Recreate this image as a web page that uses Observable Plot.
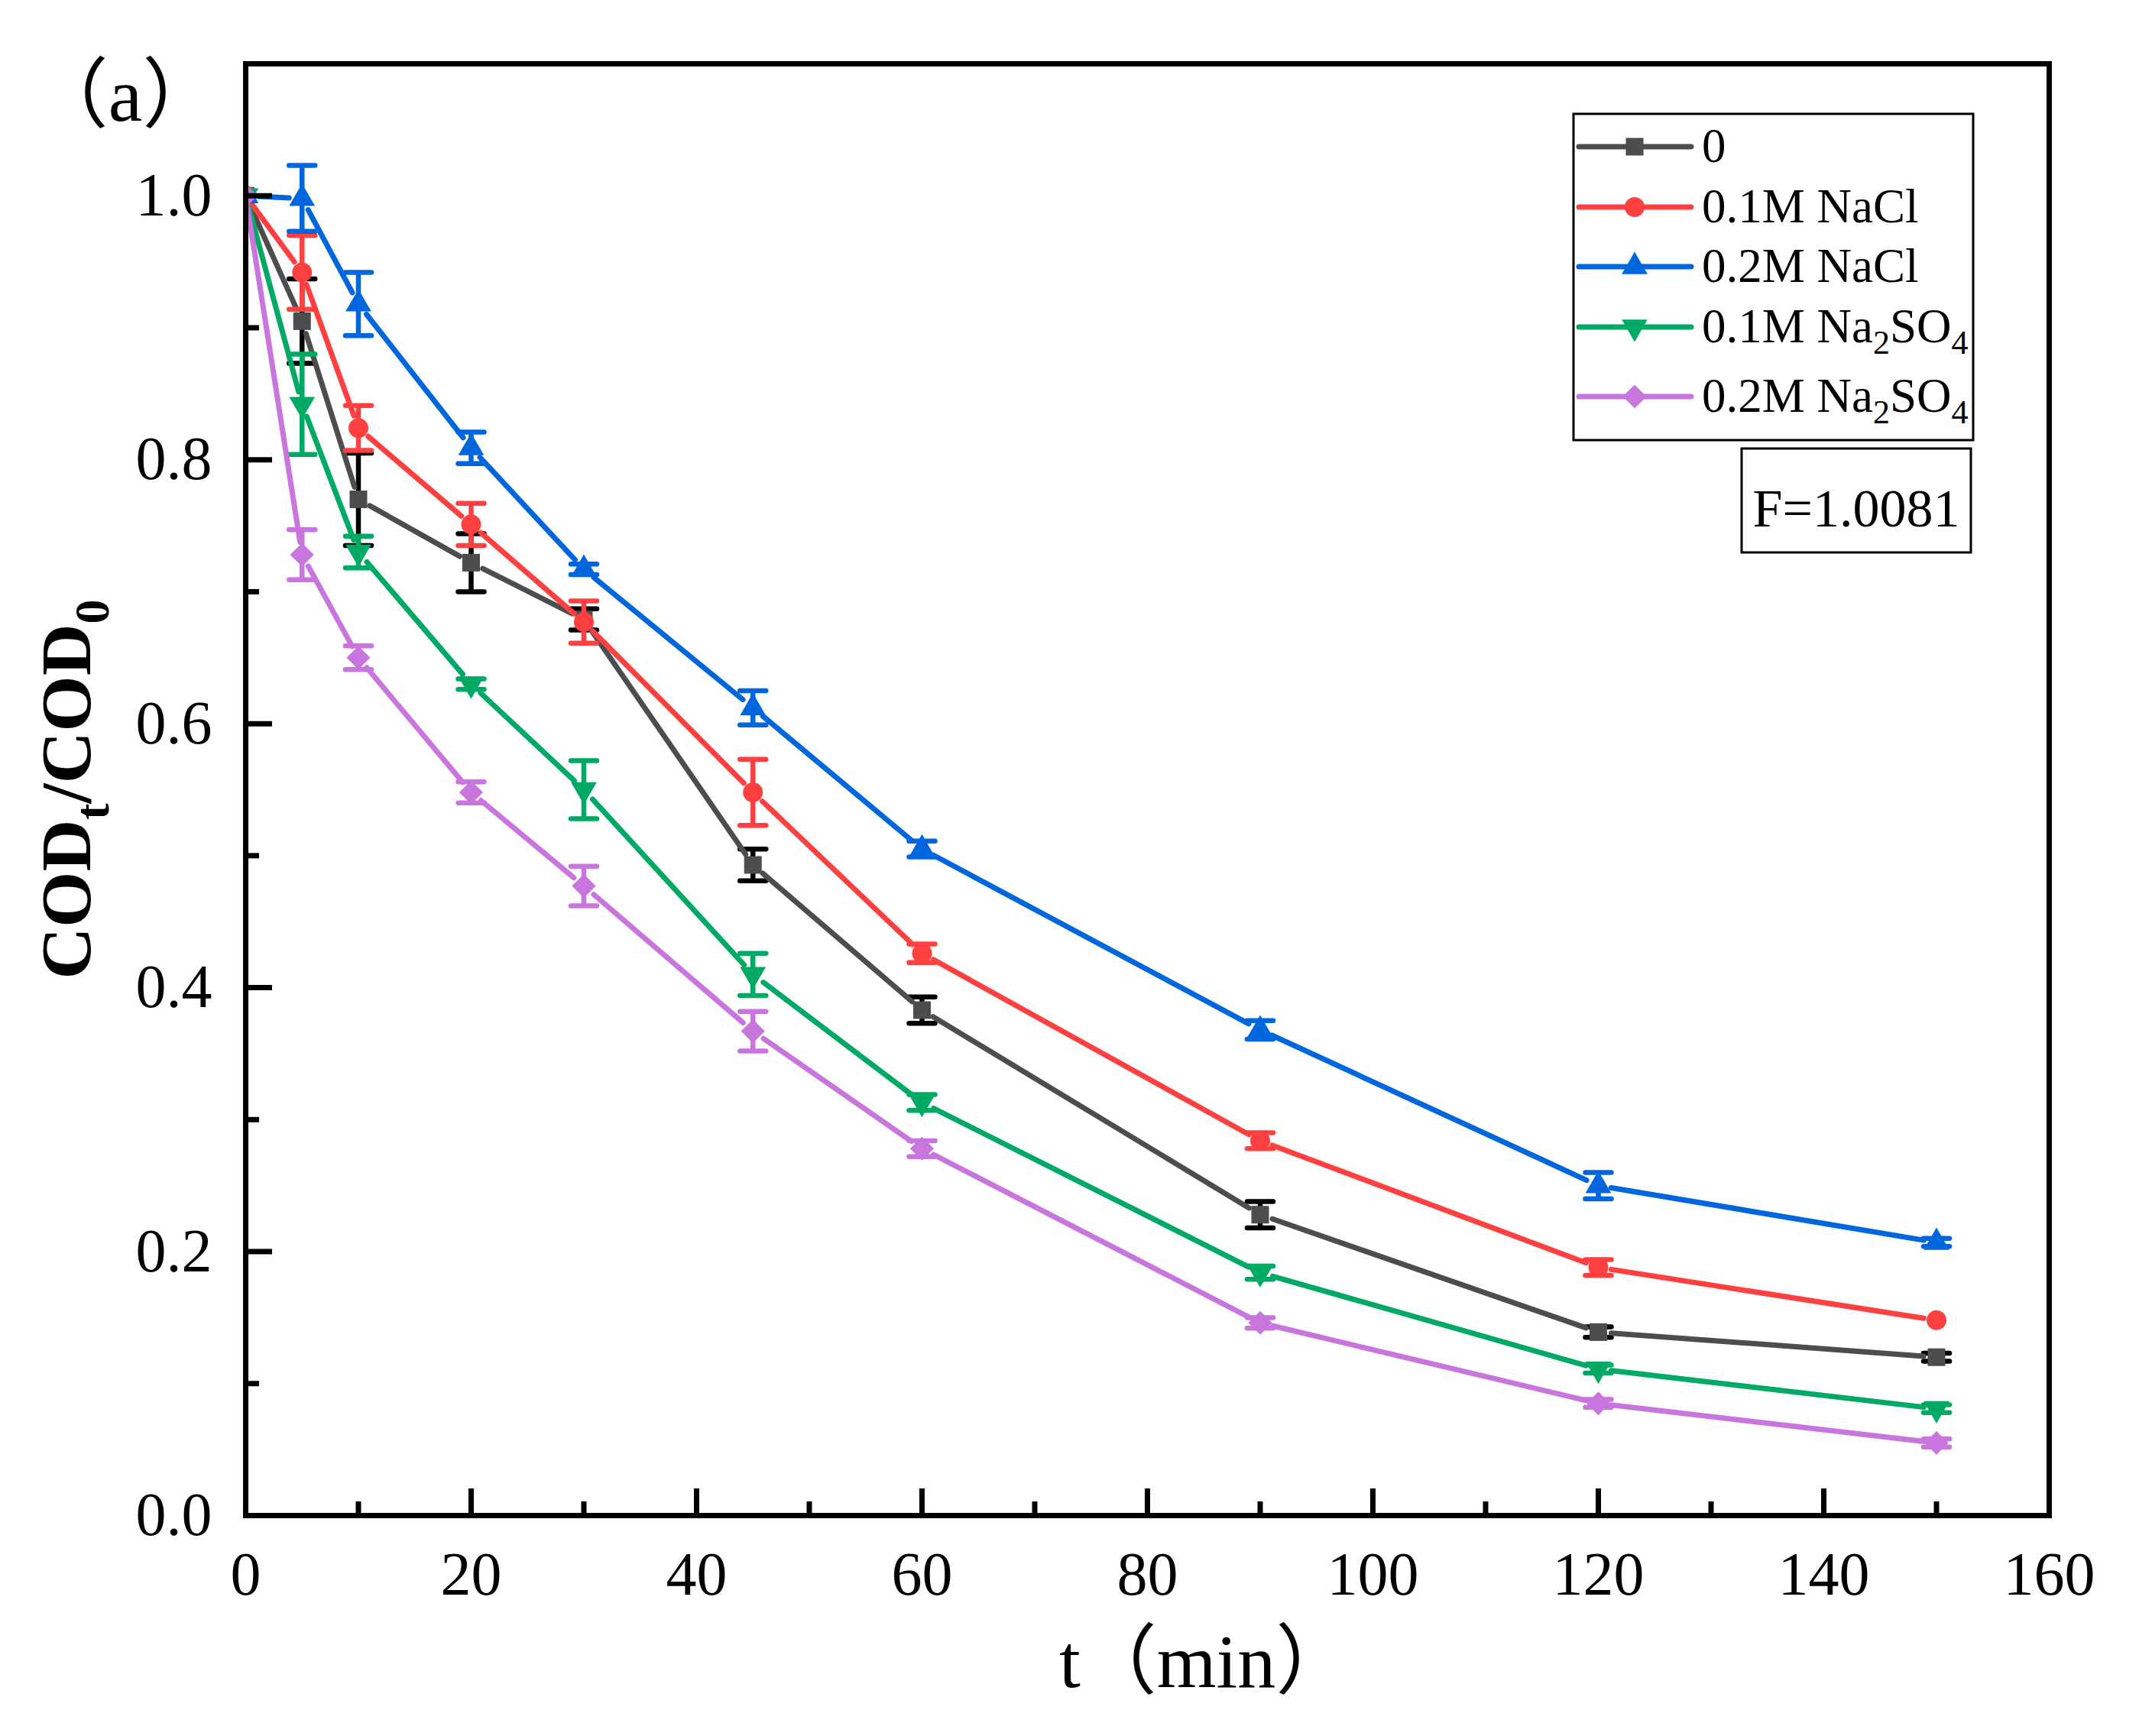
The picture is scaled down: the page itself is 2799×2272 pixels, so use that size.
<!DOCTYPE html>
<html>
<head>
<meta charset="utf-8">
<script src="https://cdn.jsdelivr.net/npm/d3@7"></script>
<script src="https://cdn.jsdelivr.net/npm/@observablehq/plot@0.6"></script>
<style>
  body { margin: 0; background: #fff; }
</style>
</head>
<body>
<div id="chart"></div>
<script>
// sampling times (min)
const times = [0, 5, 10, 20, 30, 45, 60, 90, 120, 150];

// COD_t/COD_0 and error bar half widths, one pair per electrolyte
const blank = [1.0, 0.905, 0.770, 0.722, 0.679, 0.493, 0.383, 0.228, 0.139, 0.120];
const blankErr = [0, 0.032, 0.035, 0.022, 0.008, 0.012, 0.010, 0.010, 0.004, 0.003];

const nacl01 = [1.0, 0.942, 0.824, 0.751, 0.677, 0.548, 0.426, 0.284, 0.188, 0.148];
const nacl01Err = [0, 0.028, 0.017, 0.016, 0.016, 0.025, 0.007, 0.006, 0.006, 0];

const nacl02 = [1.0, 0.998, 0.918, 0.809, 0.717, 0.612, 0.505, 0.368, 0.250, 0.207];
const nacl02Err = [0, 0.025, 0.024, 0.012, 0.004, 0.013, 0.006, 0.007, 0.010, 0.003];

const na2so401 = [1.0, 0.842, 0.730, 0.630, 0.550, 0.410, 0.313, 0.184, 0.111, 0.081];
const na2so401Err = [0, 0.038, 0.012, 0.004, 0.022, 0.016, 0.006, 0.005, 0.003, 0.003];

const na2so402 = [1.0, 0.728, 0.650, 0.548, 0.477, 0.367, 0.278, 0.146, 0.085, 0.055];
const na2so402Err = [0, 0.019, 0.009, 0.008, 0.015, 0.015, 0.006, 0.004, 0.003, 0.003];

const seriesNames = ["0", "0.1M NaCl", "0.2M NaCl", "0.1M Na2SO4", "0.2M Na2SO4"];
const seriesValues = [blank, nacl01, nacl02, na2so401, na2so402];
const seriesErrors = [blankErr, nacl01Err, nacl02Err, na2so401Err, na2so402Err];

const xTicks = [0, 20, 40, 60, 80, 100, 120, 140, 160];
const xMinor = [10, 30, 50, 70, 90, 110, 130, 150];
const yTicks = [0, 0.2, 0.4, 0.6, 0.8, 1.0];
const yMinor = [0.1, 0.3, 0.5, 0.7, 0.9];
const fText = "F=1.0081";

// styles
const lineColors = ["#4d4d4d", "#ff4040", "#0066dd", "#00aa64", "#c876dd"];
const errColors = ["#000000", "#ff4040", "#0066dd", "#00aa64", "#c876dd"];

// downward triangle, same geometry as d3.symbolTriangle flipped
const triangleDown = {
  draw(ctx, size) {
    const y = -Math.sqrt(size / (Math.sqrt(3) * 3));
    ctx.moveTo(0, -y * 2);
    ctx.lineTo(-Math.sqrt(3) * y, y);
    ctx.lineTo(Math.sqrt(3) * y, y);
    ctx.closePath();
  }
};
// flat error bar cap
const capSymbol = {
  draw(ctx) {
    ctx.moveTo(-17, 0);
    ctx.lineTo(17, 0);
  }
};
const symbols = [d3.symbolSquare, d3.symbolCircle, d3.symbolTriangle, triangleDown, d3.symbolDiamond2];
const symbolR = [13, 13, 12.5, 12.5, 14];

const W = 2799, H = 2272;
const mLeft = 321, mRight = 118, mTop = 83, mBottom = 289;
const innerW = W - mLeft - mRight;
const innerH = H - mTop - mBottom;
const font = "'Liberation Serif', 'Times New Roman', 'Noto Sans CJK SC', serif";

const marks = [];
seriesNames.forEach((name, k) => {
  const rows = times.map((t, i) => ({t, v: seriesValues[k][i], e: seriesErrors[k][i]}));
  const withErr = rows.filter(d => d.e > 0);
  const caps = withErr.flatMap(d => [{t: d.t, y: d.v + d.e}, {t: d.t, y: d.v - d.e}]);
  const segs = d3.pairs(rows).map(([a, b]) => ({x1: a.t, y1: a.v, x2: b.t, y2: b.v}));

  marks.push(
    Plot.ruleX(withErr, {x: "t", y1: d => d.v - d.e, y2: d => d.v + d.e, stroke: errColors[k], strokeWidth: 6.5}),
    Plot.dot(caps, {x: "t", y: "y", symbol: capSymbol, stroke: errColors[k], fill: "none", strokeWidth: 6.5, strokeLinecap: "round"}),
    Plot.arrow(segs, {x1: "x1", y1: "y1", x2: "x2", y2: "y2", stroke: lineColors[k], strokeWidth: 7, headLength: 0, inset: 17}),
    Plot.dot(rows, {x: "t", y: "v", symbol: symbols[k], r: symbolR[k], fill: lineColors[k], stroke: "none", clip: true})
  );
});

const chart = Plot.plot({
  width: W,
  height: H,
  marginLeft: mLeft,
  marginRight: mRight,
  marginTop: mTop,
  marginBottom: mBottom,
  style: {fontFamily: font, fontSize: "80px", color: "black", background: "white", overflow: "visible"},
  x: {domain: [0, 160]},
  y: {domain: [0, 1.1]},
  marks: [
    ...marks,
    // inward ticks
    Plot.tickX(xTicks, {x: d => d, insetTop: innerH - 35, stroke: "black", strokeWidth: 7}),
    Plot.tickX(xMinor, {x: d => d, insetTop: innerH - 18, stroke: "black", strokeWidth: 7}),
    Plot.tickY(yTicks, {y: d => d, insetRight: innerW - 35, stroke: "black", strokeWidth: 7}),
    Plot.tickY(yMinor, {y: d => d, insetRight: innerW - 18, stroke: "black", strokeWidth: 7}),
    Plot.axisX({ticks: xTicks, tickSize: 0, tickPadding: 47, label: null, fontSize: 80, fill: "black"}),
    Plot.axisY({ticks: yTicks, tickSize: 0, tickPadding: 44, label: null, fontSize: 80, fill: "black", tickFormat: d3.format(".1f")}),
    Plot.frame({stroke: "black", strokeWidth: 7})
  ]
});

const svg = d3.select(chart);

// axis titles
const yl = svg.append("text")
  .attr("transform", "translate(118,1033) rotate(-90)")
  .attr("text-anchor", "middle")
  .attr("font-family", font)
  .attr("font-size", 94)
  .attr("font-weight", "bold")
  .attr("fill", "black");
yl.append("tspan").text("COD");
yl.append("tspan").attr("font-size", 64).attr("dy", 24).text("t");
yl.append("tspan").attr("dy", -24).text("/COD");
yl.append("tspan").attr("font-size", 64).attr("dy", 24).text("0");

svg.append("text")
  .attr("x", 1386).attr("y", 2208)
  .attr("text-anchor", "start")
  .attr("font-family", font)
  .attr("font-size", 100)
  .attr("fill", "black")
  .text("t（min）");

svg.append("text")
  .attr("x", 164).attr("y", 158)
  .attr("text-anchor", "middle")
  .attr("font-family", font)
  .attr("font-size", 100)
  .attr("fill", "black")
  .text("（a）");

// legend
const rowY = [192, 271, 349, 428, 519];
const lg = svg.append("g").attr("font-family", font).attr("fill", "black").attr("text-anchor", "start");
lg.append("rect")
  .attr("x", 2059).attr("y", 149).attr("width", 523).attr("height", 427)
  .attr("fill", "white").attr("stroke", "black").attr("stroke-width", 3);
seriesNames.forEach((name, k) => {
  const y = rowY[k];
  lg.append("line")
    .attr("x1", 2066).attr("x2", 2213).attr("y1", y).attr("y2", y)
    .attr("stroke", lineColors[k]).attr("stroke-width", 7).attr("stroke-linecap", "round");
  lg.append("path")
    .attr("transform", `translate(2139,${y})`)
    .attr("d", d3.symbol(symbols[k], Math.PI * symbolR[k] * symbolR[k])())
    .attr("fill", lineColors[k]);
  const txt = lg.append("text").attr("x", 2227).attr("y", y + 20).attr("font-size", 63);
  // digits right after a letter are subscripts (Na2SO4)
  name.split(/(?<=[A-Za-z])(\d+)/).forEach((part, j) => {
    if (!part) return;
    if (j % 2 === 1) {
      txt.append("tspan").attr("font-size", 44).attr("dy", 15).text(part);
    } else {
      const sp = txt.append("tspan").text(part);
      if (j > 0) sp.attr("dy", -15);
    }
  });
});

// F value box
lg.append("rect")
  .attr("x", 2279).attr("y", 587).attr("width", 300).attr("height", 136)
  .attr("fill", "white").attr("stroke", "black").attr("stroke-width", 3);
lg.append("text")
  .attr("x", 2429).attr("y", 689)
  .attr("text-anchor", "middle")
  .attr("font-size", 70)
  .text(fText);

document.getElementById("chart").append(chart);
</script>
</body>
</html>
